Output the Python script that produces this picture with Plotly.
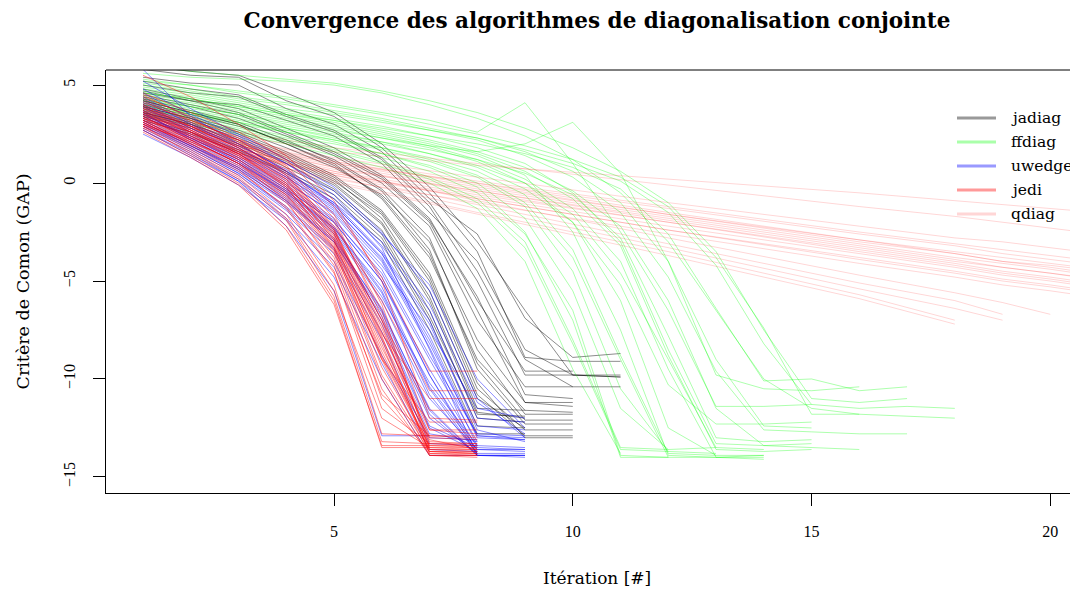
import plotly.graph_objects as go

# ---------------- data (log GAP per iteration, one list per run) ----------------
jadiag_runs = [
    [5.4, 5.1, 5.0, 3.8, 3.0, 1.6, -0.8, -2.6, -6.9, -8.9, -8.7],
    [4.6, 4.2, 4.0, 3.2, 2.4, 1.0, -1.5, -4.0, -8.5, -9.8, -9.9],
    [4.2, 3.6, 3.0, 2.0, 1.0, -0.8, -3.8, -9.0, -11.6, -11.7],
    [3.8, 3.2, 2.4, 1.4, 0.2, -1.8, -5.5, -11.0, -12.5],
    [3.5, 2.9, 2.0, 1.0, -0.3, -2.4, -6.5, -12.0, -12.2],
    [4.0, 3.4, 2.7, 1.8, 0.8, -0.6, -3.0, -8.0, -11.2, -11.2],
    [5.0, 4.6, 4.4, 3.4, 2.6, 1.2, -1.2, -5.0, -9.8, -9.8, -9.9],
    [3.3, 2.6, 1.7, 0.6, -0.6, -2.8, -7.0, -12.4, -12.5],
    [4.4, 3.9, 3.3, 2.4, 1.4, 0.0, -2.2, -7.0, -10.4, -10.4],
    [3.6, 3.0, 2.2, 1.2, 0.0, -2.0, -5.8, -11.5, -11.6],
    [4.8, 4.3, 3.8, 2.8, 1.8, 0.4, -1.8, -6.0, -9.6, -9.6],
    [3.9, 3.3, 2.6, 1.6, 0.4, -1.4, -4.6, -10.2, -13.0, -13.0],
    [3.2, 2.5, 1.6, 0.5, -0.8, -3.0, -7.5, -12.8, -12.8],
    [5.8, 5.5, 5.4, 4.2, 3.4, 1.8, -0.5, -3.5, -8.9, -9.1, -9.1],
    [4.1, 3.5, 2.9, 2.1, 1.2, -0.3, -2.8, -8.5, -11.8, -11.8],
    [3.7, 3.1, 2.3, 1.3, 0.1, -1.6, -5.0, -10.8, -12.9, -12.9],
    [4.5, 4.0, 3.5, 2.5, 1.5, 0.2, -2.0, -6.5, -11.2, -11.4],
    [3.4, 2.8, 1.9, 0.8, -0.4, -2.6, -6.8, -11.8, -11.9],
    [6.0, 5.7, 5.5, 4.6, 3.6, 2.0, -0.2, -3.0, -6.5, -9.8, -9.8],
    [4.3, 3.7, 3.1, 2.2, 1.1, -0.4, -3.4, -9.5, -12.3, -12.3],
    [3.9, 3.3, 2.5, 1.5, 0.3, -1.5, -4.8, -10.5, -12.6, -12.6],
    [4.7, 4.2, 3.6, 2.6, 1.6, 0.3, -1.9, -5.8, -10.8, -11.0],
    [3.6, 3.0, 2.1, 1.1, -0.1, -2.1, -6.0, -11.7, -12.0],
    [4.2, 3.6, 3.0, 2.0, 0.9, -0.7, -3.6, -9.2, -12.1, -12.1],
    [5.2, 4.8, 4.5, 3.5, 2.7, 1.3, -1.0, -4.5, -9.0, -10.4, -10.4],
]

ffdiag_runs = [
    [4.5, 4.2, 3.8, 3.4, 3.0, 2.5, 2.0, 1.4, 0.4, -2.5, -7.5, -13.9, -14.0, -14.0],
    [4.0, 3.6, 3.1, 2.6, 2.1, 1.5, 0.8, -0.2, -2.5, -7.0, -14.0, -14.0],
    [5.2, 5.0, 4.7, 4.4, 4.0, 3.6, 3.2, 2.6, 4.1, 1.0, -2.5, -6.5, -11.4, -11.4, -11.3],
    [4.2, 3.9, 3.5, 3.1, 2.7, 2.3, 1.9, 1.6, 2.0, 3.1, 0.5, -4.0, -9.8, -10.5, -10.6, -10.4],
    [3.6, 3.2, 2.7, 2.2, 1.7, 1.1, 0.3, -0.8, -3.0, -8.0, -13.5, -13.6],
    [4.8, 4.5, 4.1, 3.7, 3.3, 2.9, 2.4, 1.8, 1.0, -0.5, -3.0, -8.5, -13.3, -13.4, -13.3],
    [3.9, 3.5, 3.0, 2.6, 2.2, 1.8, 1.3, 0.6, -0.6, -3.4, -8.8, -13.8, -13.9],
    [5.6, 5.4, 5.3, 5.2, 5.0, 4.6, 4.0, 3.3, 2.4, 1.2, -0.5, -3.0, -6.5, -10.0, -11.5, -11.8],
    [4.3, 3.9, 3.5, 3.0, 2.6, 2.1, 1.5, 0.8, -0.3, -2.0, -5.2, -10.3, -12.3, -12.3, -12.2],
    [3.8, 3.3, 2.8, 2.3, 1.8, 1.3, 0.6, -0.5, -2.6, -6.5, -13.9, -14.0],
    [4.6, 4.3, 3.9, 3.5, 3.2, 2.8, 2.4, 2.0, 1.5, 0.8, -0.3, -2.6, -6.4, -10.1, -10.0, -10.6, -10.4],
    [4.1, 3.7, 3.3, 2.8, 2.4, 2.0, 1.5, 0.9, 0.0, -1.6, -4.6, -9.0, -13.5, -13.6],
    [5.0, 4.7, 4.3, 4.0, 3.6, 3.2, 2.7, 2.2, 1.4, 0.3, -1.5, -4.8, -9.6, -12.6, -12.7, -12.8, -12.8],
    [3.5, 3.1, 2.6, 2.1, 1.6, 1.0, 0.2, -1.0, -3.3, -8.2, -13.6, -13.7],
    [4.4, 4.1, 3.7, 3.3, 2.9, 2.4, 1.9, 1.2, 0.2, -1.3, -4.0, -9.5, -14.0, -14.1],
    [4.9, 4.6, 4.2, 3.8, 3.5, 3.1, 2.7, 2.3, 1.7, 1.0, 0.1, -1.5, -4.2, -8.2, -11.3, -11.5, -11.4, -11.5],
    [3.7, 3.4, 2.9, 2.4, 2.0, 1.5, 0.9, 0.0, -1.8, -5.5, -11.5, -13.6, -13.5],
    [4.2, 3.8, 3.4, 2.9, 2.5, 2.1, 1.7, 1.2, 0.5, -0.6, -2.8, -7.8, -13.0, -13.2, -13.1],
    [5.3, 5.0, 4.6, 4.3, 3.9, 3.5, 3.0, 2.5, 1.9, 1.2, 0.3, -1.2, -3.8, -7.4, -11.8, -11.8, -11.9, -12.0],
    [4.0, 3.6, 3.2, 2.8, 2.3, 1.8, 1.2, 0.4, -1.0, -3.8, -9.0, -14.0, -14.0, -13.9],
    [4.7, 4.4, 4.0, 3.6, 3.2, 2.7, 2.2, 1.6, 0.8, -0.4, -2.2, -6.0, -11.5, -13.4, -13.5, -13.6],
    [3.4, 3.0, 2.5, 2.0, 1.4, 0.8, 0.0, -1.3, -4.0, -9.5, -13.8],
    [6.0, 5.7, 5.5, 5.3, 5.1, 4.7, 4.2, 3.6, 2.8, 1.8, 0.6, -1.0, -3.5, -7.5, -11.0, -11.2, -11.0],
    [4.3, 4.0, 3.6, 3.2, 2.8, 2.3, 1.8, 1.1, 0.0, -2.0, -6.0, -12.5, -13.9, -13.9],
    [3.9, 3.5, 3.1, 2.7, 2.2, 1.7, 1.1, 0.3, -1.2, -4.5, -10.5, -13.7, -13.8],
    [4.6, 4.3, 3.9, 3.5, 3.1, 2.6, 2.1, 1.5, 0.6, -0.8, -3.2, -8.8, -13.6, -13.7, -13.6],
    [5.1, 4.8, 4.4, 4.1, 3.7, 3.3, 2.8, 2.3, 1.6, 0.6, -1.0, -4.0, -9.0, -12.4, -12.5],
]

uwedge_runs = [
    [3.6, 2.3, 1.2, -0.3, -2.0, -5.0, -9.5, -13.5, -13.6],
    [3.2, 2.0, 0.8, -0.8, -2.8, -6.5, -11.5, -13.9, -13.9],
    [4.0, 2.8, 1.6, 0.3, -1.3, -3.8, -8.0, -13.0, -13.1],
    [2.8, 1.6, 0.2, -1.6, -4.0, -8.8, -13.0, -13.1],
    [4.3, 3.0, 1.9, 0.7, -0.8, -3.2, -6.5, -12.0, -12.2],
    [3.4, 2.2, 1.0, -0.4, -2.2, -5.5, -10.5, -13.8, -13.8],
    [3.0, 1.8, 0.5, -1.2, -3.3, -7.2, -12.5, -13.7],
    [3.8, 2.6, 1.5, 0.1, -1.6, -4.4, -8.8, -12.8, -12.9],
    [2.7, 1.4, 0.1, -2.2, -5.5, -12.9, -12.9],
    [4.6, 3.3, 2.2, 1.0, -0.4, -2.6, -5.2, -10.0, -12.5],
    [3.5, 2.4, 1.3, -0.1, -1.8, -4.8, -9.8, -13.9, -14.0],
    [3.1, 1.9, 0.6, -1.0, -3.0, -6.8, -12.0, -13.8],
    [3.9, 2.6, 1.4, 0.0, -1.5, -4.2, -7.5, -11.5, -12.0],
    [2.9, 1.7, 0.4, -1.4, -3.6, -8.0, -13.3, -13.4],
    [5.2, 3.8, 2.5, 1.2, -0.2, -2.5, -5.5, -11.0, -13.0],
    [3.3, 2.1, 0.9, -0.6, -2.5, -6.0, -11.0, -13.6, -13.6],
    [3.7, 2.5, 1.3, -0.2, -1.9, -4.6, -9.0, -13.2],
    [4.1, 2.9, 1.8, 0.5, -1.0, -3.5, -7.0, -12.6, -13.2],
    [2.7, 1.5, 0.1, -1.8, -4.3, -9.2, -13.6, -13.7],
    [3.6, 2.2, 1.0, -0.5, -2.4, -5.8, -10.2, -13.4],
    [3.2, 2.0, 0.7, -0.9, -3.0, -6.6, -11.8, -13.9],
    [4.4, 3.1, 2.0, 0.6, -1.0, -3.0, -6.2, -11.2, -12.8],
    [3.0, 1.9, 0.8, -0.7, -2.6, -7.0, -12.4, -13.5],
    [2.5, 1.3, -0.1, -1.9, -4.8, -10.0, -13.9, -13.9],
    [4.8, 3.5, 2.4, 1.0, -0.6, -3.3, -8.5, -13.9, -13.9],
    [5.8, 3.4, 2.0, 0.6, -1.1, -3.6, -7.8, -12.9, -13.0],
    [3.4, 2.3, 1.1, -0.4, -2.3, -5.6, -10.8, -13.8],
    [3.9, 2.7, 1.5, 0.2, -1.4, -4.0, -8.4, -13.4, -13.5],
    [3.1, 1.9, 0.7, -0.9, -2.9, -6.4, -11.6, -13.9, -13.9],
    [3.7, 2.4, 1.2, -0.3, -2.0, -5.0, -9.8, -13.7],
    [4.2, 3.0, 1.8, 0.4, -1.1, -3.6, -7.2, -12.4, -12.6],
    [2.9, 1.8, 0.5, -1.3, -3.4, -7.6, -12.8, -13.2],
    [3.5, 2.3, 1.1, -0.5, -2.3, -5.3, -10.4, -13.6, -13.7],
    [4.0, 2.8, 1.7, 0.3, -1.2, -3.9, -8.2, -12.9, -13.1],
]

jedi_runs = [
    [4.3, 3.2, 2.2, 0.6, -2.0, -6.5, -13.5, -13.6],
    [3.9, 2.8, 1.6, 0.0, -2.8, -8.0, -13.7, -13.8],
    [3.5, 2.4, 1.2, -0.4, -3.2, -8.6, -13.4, -13.5],
    [3.1, 2.0, 0.8, -1.0, -4.0, -10.5, -13.9, -14.0],
    [2.8, 1.6, 0.3, -1.8, -5.5, -12.0, -13.5],
    [4.6, 3.6, 2.6, 1.2, -1.2, -4.8, -9.6, -9.6],
    [4.0, 3.0, 1.9, 0.4, -2.2, -6.0, -10.6, -10.6],
    [3.7, 2.7, 1.6, 0.2, -2.5, -7.0, -11.6, -11.6],
    [3.3, 2.2, 1.0, -0.6, -3.5, -9.0, -12.2, -12.2],
    [3.0, 1.8, 0.6, -1.2, -4.5, -11.5, -13.3, -13.3],
    [2.7, 1.4, 0.0, -2.2, -6.0, -13.5, -13.5],
    [2.9, 1.7, 0.4, -1.6, -5.2, -12.8, -12.9],
    [4.2, 3.1, 2.0, 0.5, -2.3, -7.4, -13.0, -13.1],
    [3.6, 2.5, 1.3, -0.3, -3.0, -8.2, -13.8, -13.9],
    [3.4, 2.3, 1.2, -0.5, -3.4, -9.4, -13.6, -13.6],
    [3.8, 2.9, 1.8, 0.3, -2.4, -7.6, -12.6, -12.6],
    [4.1, 3.2, 2.2, 0.8, -1.8, -6.8, -13.2, -13.3],
    [3.2, 2.0, 0.9, -0.8, -3.8, -10.0, -13.9, -13.9],
    [5.5, 4.4, 3.0, 1.4, -0.9, -5.0, -12.0, -12.1],
    [3.0, 2.1, 1.0, -0.9, -4.2, -11.0, -13.7, -13.7],
    [3.5, 2.6, 1.5, 0.0, -2.9, -8.8, -13.4, -13.4],
    [2.9, 1.5, 0.2, -1.9, -5.8, -13.2, -13.3],
    [4.4, 3.4, 2.3, 0.9, -1.6, -6.2, -12.6, -12.8],
    [3.3, 2.4, 1.4, -0.2, -3.1, -8.4, -13.1, -13.6],
    [3.7, 2.6, 1.4, -0.1, -2.7, -7.8, -13.8, -13.8],
    [3.1, 1.9, 0.7, -1.3, -4.6, -10.8, -12.9, -12.9],
    [3.8, 2.7, 1.5, -0.2, -3.3, -9.0, -13.9, -13.9],
    [4.0, 2.9, 1.8, 0.2, -2.6, -7.2, -13.6, -13.7],
    [3.4, 2.2, 1.0, -0.7, -3.6, -9.8, -13.7, -13.8],
    [3.6, 2.6, 1.5, -0.1, -2.9, -7.9, -12.9, -13.0],
    [3.2, 2.1, 1.1, -0.6, -3.3, -8.9, -13.5, -13.5],
    [4.5, 3.3, 2.1, 0.4, -2.4, -7.0, -13.3, -13.4],
    [2.6, 1.3, -0.1, -2.4, -6.2, -13.4, -13.4],
    [3.9, 2.9, 1.7, 0.1, -2.6, -7.7, -11.0, -11.0],
]

# qdiag: values read at these iterations only (polyline vertices)
qdiag_iters = [1, 2, 3, 5, 8, 12, 16, 18, 19, 20, 22]
qdiag_runs = [
    [3.6, 2.9, 2.4, 1.6, 0.9, 0.2, -0.5, -0.9, -1.1, -1.3, -1.7],
    [3.8, 3.1, 2.6, 1.8, 1.0, -0.1, -1.2, -1.7, -2.0, -2.3, -2.9],
    [3.5, 2.8, 2.2, 1.3, 0.3, -1.0, -2.2, -2.8, -3.0, -3.3, -3.9],
    [3.2, 2.5, 1.9, 1.0, 0.0, -1.3, -2.6, -3.2, -3.6, -3.9, -4.5],
    [3.4, 2.7, 2.0, 1.1, 0.0, -1.5, -2.9, -3.6, -4.0, -4.3, -5.0],
    [3.0, 2.3, 1.7, 0.7, -0.4, -1.8, -3.2, -3.9, -4.3, -4.6, -5.3],
    [3.3, 2.6, 1.9, 0.9, -0.3, -1.7, -3.1, -3.8, -4.1, -4.4, -5.1],
    [2.9, 2.2, 1.5, 0.5, -0.7, -2.2, -3.6, -4.3, -4.7, -5.0, -5.7],
    [3.1, 2.4, 1.7, 0.6, -0.6, -2.0, -3.4, -4.1, -4.5, -4.8, -5.5],
    [2.8, 2.0, 1.3, 0.2, -1.0, -2.6, -4.1, -4.8, -5.2, -5.5, -6.2],
    [3.7, 2.9, 2.2, 1.2, 0.1, -1.2, -2.5, -3.1, -3.4, -3.7, -4.3],
    [3.0, 2.3, 1.6, 0.5, -0.8, -2.4, -3.9, -4.6, -5.0, -5.3, -6.0],
    [2.9, 2.1, 1.3, 0.0, -1.6, -3.7, -5.9, -7.2],
    [3.0, 2.2, 1.4, 0.1, -1.5, -3.5, -5.7, -7.0],
    [3.1, 2.3, 1.5, 0.3, -1.3, -3.3, -5.4, -6.4, -7.0],
    [3.2, 2.4, 1.6, 0.4, -1.1, -3.1, -5.1, -6.0, -6.7],
    [3.2, 2.5, 1.7, 0.6, -0.9, -2.8, -4.7, -5.6, -6.1, -6.7],
    [3.3, 2.5, 1.8, 0.8, -0.5, -2.0, -3.5, -4.2, -4.6, -4.9, -5.6],
    [3.6, 2.8, 2.1, 1.1, -0.1, -1.6, -3.0, -3.6, -4.0, -4.2, -4.8],
    [3.4, 2.6, 1.9, 0.8, -0.4, -1.9, -3.3, -4.0, -4.3, -4.6, -5.2],
    [2.9, 2.2, 1.5, 0.4, -0.8, -2.4, -3.8, -4.5, -4.9, -5.2, -5.9],
    [3.5, 2.7, 2.0, 1.0, -0.2, -1.6, -2.9, -3.5, -3.8, -4.1, -4.7],
]

algo_names = ["jadiag", "ffdiag", "uwedge", "jedi", "qdiag"]
line_colors = ["rgba(0,0,0,0.45)", "rgba(0,255,0,0.32)", "rgba(0,0,255,0.45)",
               "rgba(255,0,0,0.45)", "rgba(255,0,0,0.16)"]
legend_colors = ["#999999", "#aaffaa", "#9999ff", "#ff9999", "#ffd6d6"]

x_ticks = [5, 10, 15, 20]
y_ticks = [5, 0, -5, -10, -15]

TICK_FONT = "Liberation Serif"
TEXT_FONT = "DejaVu Serif"

# page body has an 8px margin: figure coordinates = screen coordinates - 8
W, H = 1070, 582
ML, MT, MB = 98, 62, 97
PW, PH = W - ML, H - MT - MB   # 972 x 423

fig = go.Figure()

all_runs = [jadiag_runs, ffdiag_runs, uwedge_runs, jedi_runs, qdiag_runs]
for name, runs, col in zip(algo_names, all_runs, line_colors):
    for r in runs:
        if name == "qdiag":
            xs = qdiag_iters[:len(r)]
        else:
            xs = list(range(1, len(r) + 1))
        fig.add_trace(go.Scatter(x=xs, y=r, mode="lines",
                                 line=dict(color=col, width=1),
                                 showlegend=False, hoverinfo="skip"))

fig.update_layout(
    width=W, height=H,
    margin=dict(l=ML, r=0, t=MT, b=MB, pad=0),
    paper_bgcolor="white", plot_bgcolor="white",
    font=dict(family=TICK_FONT, size=16, color="black"),
    title=dict(text="<b>Convergence des algorithmes de diagonalisation conjointe</b>",
               x=589 / W, xanchor="center", y=1 - 12 / H, yanchor="middle",
               font=dict(family=TEXT_FONT, size=21.5, color="black")),
    showlegend=False,
)

fig.update_xaxes(range=[0.225, 20.58], tickvals=x_ticks, ticks="outside", ticklen=12,
                 tickcolor="black", showline=True, linecolor="black", linewidth=1,
                 showgrid=False, zeroline=False, ticklabelstandoff=12,
                 tickfont=dict(size=16, family=TICK_FONT))
fig.update_yaxes(range=[-15.82, 5.77], tickvals=y_ticks, ticks="outside", ticklen=12,
                 tickcolor="black", showline=True, linecolor="black", linewidth=1,
                 showgrid=False, zeroline=False, tickangle=-90, ticklabelstandoff=12,
                 tickfont=dict(size=16, family=TICK_FONT))

# top border of the box
fig.add_shape(type="line", xref="paper", yref="paper", x0=0, x1=1, y0=1, y1=1,
              line=dict(color="black", width=1))

# axis titles
fig.add_annotation(text="Itération [#]", xref="paper", yref="paper",
                   x=(589 - ML) / PW, y=0, yshift=-85, showarrow=False,
                   xanchor="center", yanchor="middle",
                   font=dict(size=17, family=TEXT_FONT))
fig.add_annotation(text="Critère de Comon (GAP)", xref="paper", yref="paper",
                   x=0, xshift=-84, y=0.5, showarrow=False, textangle=-90,
                   xanchor="center", yanchor="middle",
                   font=dict(size=17.5, family=TEXT_FONT))

# legend (drawn as line samples + text, top-right inside the plot)
leg_x0, leg_x1, leg_tx = 949, 988, 1001   # figure px
leg_y0, leg_dy = 110, 24
for i, (name, col) in enumerate(zip(algo_names, legend_colors)):
    yp = 1 - (leg_y0 + i * leg_dy - MT) / PH
    fig.add_shape(type="line", xref="paper", yref="paper",
                  x0=(leg_x0 - ML) / PW, x1=(leg_x1 - ML) / PW, y0=yp, y1=yp,
                  line=dict(color=col, width=3))
    fig.add_annotation(text=name, xref="paper", yref="paper",
                       x=(leg_tx - ML) / PW, y=yp, showarrow=False,
                       xanchor="left", yanchor="middle",
                       font=dict(size=15.5, family=TEXT_FONT))

fig.write_html("out.html")
